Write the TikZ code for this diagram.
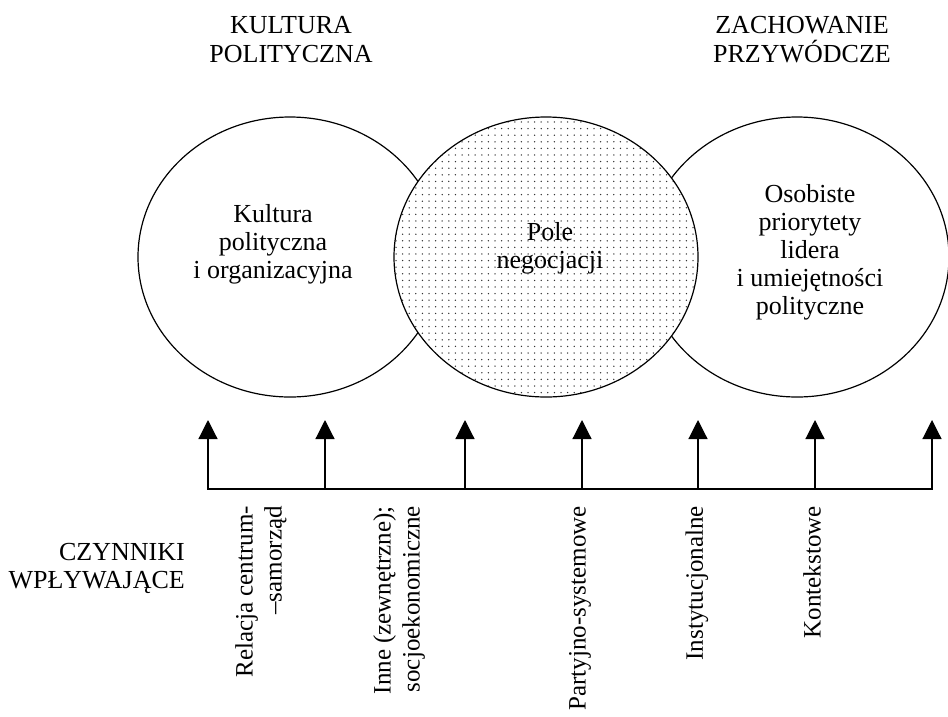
\documentclass[tikz,border=0pt]{standalone}
\usepackage{fontspec}
\setmainfont{Liberation Serif}
\usetikzlibrary{arrows.meta,patterns.meta,shapes.geometric}
\begin{document}
\begin{tikzpicture}[x=1pt,y=-1pt,
  txt/.style={font=\fontsize{26}{28}\selectfont, inner sep=0pt, align=center},
  title/.style={font=\fontsize{26}{29}\selectfont, inner sep=0pt, align=center},
  rot/.style={font=\fontsize{25}{29}\selectfont, inner sep=0pt, rotate=90, anchor=east, align=right},
  circ/.style={ellipse, draw=black, line width=1.2pt, minimum width=304pt, minimum height=280pt, inner sep=0pt},
  arr/.style={line width=1.2pt, -{Triangle[length=19pt,width=19pt]}},
  bar/.style={line width=1.2pt, line cap=rect}]
\useasboundingbox (0,0) rectangle (948,716);
% ellipses
\node[circ, fill=white] (L) at (290,257) {};
\node[circ, fill=white] (R) at (797,257) {};
\node[circ, preaction={fill=white}, pattern={Dots[distance=6.6pt,radius=0.75pt]}, pattern color=black!80] (M) at (546,257) {};
% ellipse texts
\node[txt] (tL) at (273,244) {Kultura\\polityczna\\i organizacyjna};
\node[txt] (tM) at (550,248) {Pole\\negocjacji};
\node[txt] (tR) at (810,252) {Osobiste\\priorytety\\lidera\\i umiejętności\\polityczne};
% titles
\node[title] (h1) at (291,39.3) {KULTURA\\POLITYCZNA};
\node[title] (h2) at (802,39.3) {ZACHOWANIE\\PRZYWÓDCZE};
\node[txt, align=right, anchor=east] (cz) at (185,568) {CZYNNIKI\\WPŁYWAJĄCE};
% arrows
\foreach \i/\x in {1/208,2/325,3/465,4/582,5/698,6/815,7/932} {
  \coordinate (b\i) at (\x,489);
  \coordinate (t\i) at (\x,420);
}
\draw[bar] (b1) -- (b7);
\foreach \i in {1,...,7} \draw[arr] (b\i) -- (t\i);
% rotated labels
\node[rot] (f1) at (261,506) {Relacja centrum-\\–samorząd};
\node[rot] (f2) at (399,506) {Inne (zewnętrzne);\\socjoekonomiczne};
\node[rot] (f3) at (580,506) {Partyjno-systemowe};
\node[rot] (f4) at (697,506) {Instytucjonalne};
\node[rot] (f5) at (812,506) {Kontekstowe};
\end{tikzpicture}
\end{document}
